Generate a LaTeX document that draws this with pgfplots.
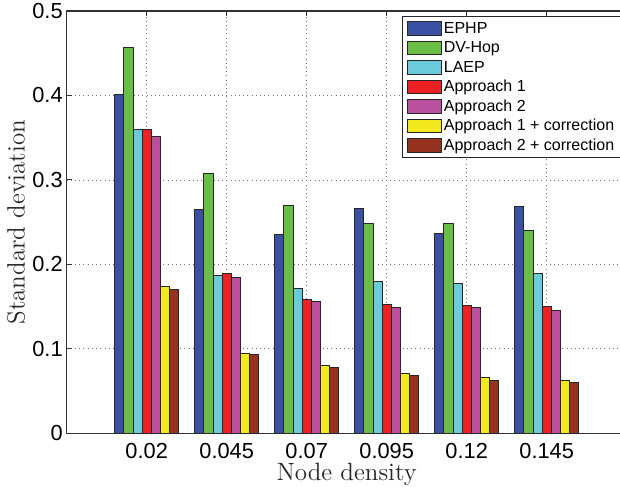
\documentclass[border=0pt]{standalone}
\usepackage{pgfplots}
\pgfplotsset{compat=1.18}
\usepackage{fontspec}
\newfontfamily\arial{Liberation Sans}
\definecolor{cEPHP}{RGB}{58,80,162}
\definecolor{cDV}{RGB}{106,190,69}
\definecolor{cLAEP}{RGB}{108,203,218}
\definecolor{cA1}{RGB}{237,32,36}
\definecolor{cA2}{RGB}{185,80,158}
\definecolor{cA1c}{RGB}{242,234,28}
\definecolor{cA2c}{RGB}{150,50,32}
\begin{document}
\begin{tikzpicture}
\begin{axis}[
  name=ax,
  scale only axis,
  width=280pt, height=211.2pt,
  xmin=0, xmax=7, ymin=0, ymax=0.5,
  ybar=0pt, bar width=0.114,
  xtick={1,2,3,4,5,6},
  xticklabels={0.02,0.045,0.07,0.095,0.12,0.145},
  ytick={0,0.1,0.2,0.3,0.4,0.5},
  yticklabels={0,0.1,0.2,0.3,0.4,0.5},
  /pgf/number format/assume math mode=true,
  ticklabel style={font=\arial\fontsize{10.9}{12.5}\selectfont},
  xticklabel style={yshift=-1.3pt},
  yticklabel style={xshift=1.5pt},
  tick align=inside,
  major tick length=2.5pt,
  tick style={black!80, line width=0.5pt},
  axis line style={black!80, line width=0.6pt},
  grid=major,
  major grid style={black!55, line width=0.45pt, dash pattern=on 0.5pt off 1.6pt},
  xlabel={Node density},
  ylabel={Standard deviation},
  label style={font=\fontsize{12.5}{15}\selectfont, black!85},
  xlabel style={at={(axis description cs:0.5,-0.1113)}, anchor=base},
  ylabel style={at={(axis description cs:-0.0905,0.5)}, anchor=center},
  every axis plot/.append style={draw=black!85, line width=0.5pt},
  legend cell align=left,
  legend style={at={(1,1)}, anchor=north east, xshift=-2.6pt, yshift=-2.5pt,
    draw=black!85, line width=0.5pt, font=\arial\fontsize{8}{9.5}\selectfont,
    inner xsep=2.4pt, inner ysep=1.2pt, row sep=0pt,
    nodes={inner sep=1pt, text height=6.3pt, text depth=1.42pt}},
  legend image code/.code={\draw[#1] (0pt,-3.4pt) rectangle (17pt,3.4pt);},
]
\addplot[fill=cEPHP] coordinates {(1,0.401) (2,0.265) (3,0.235) (4,0.266) (5,0.237) (6,0.268)};
\addplot[fill=cDV] coordinates {(1,0.457) (2,0.308) (3,0.270) (4,0.248) (5,0.248) (6,0.240)};
\addplot[fill=cLAEP] coordinates {(1,0.360) (2,0.187) (3,0.171) (4,0.180) (5,0.178) (6,0.189)};
\addplot[fill=cA1] coordinates {(1,0.360) (2,0.189) (3,0.159) (4,0.153) (5,0.151) (6,0.150)};
\addplot[fill=cA2] coordinates {(1,0.352) (2,0.184) (3,0.156) (4,0.149) (5,0.149) (6,0.146)};
\addplot[fill=cA1c] coordinates {(1,0.174) (2,0.095) (3,0.080) (4,0.071) (5,0.066) (6,0.063)};
\addplot[fill=cA2c] coordinates {(1,0.170) (2,0.093) (3,0.078) (4,0.069) (5,0.063) (6,0.060)};
\legend{EPHP,DV{-}Hop,LAEP,Approach 1,Approach 2,Approach 1 + correction,Approach 2 + correction}
\end{axis}
\pgfresetboundingbox
\path[use as bounding box] ([shift={(-33.35pt,-26.35pt)}]ax.south west) rectangle ([shift={(276.65pt,5.5pt)}]ax.north west);
\end{tikzpicture}
\end{document}
